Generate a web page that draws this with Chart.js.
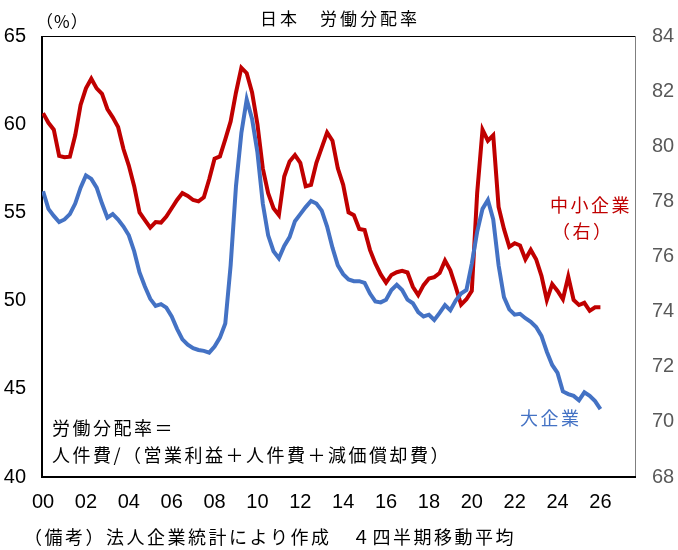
<!DOCTYPE html>
<html>
<head>
<meta charset="utf-8">
<script src="https://cdn.jsdelivr.net/npm/chart.js@4.4.1/dist/chart.umd.min.js"></script>
<style>
  html, body { margin: 0; padding: 0; background: #fff; }
  #wrap { width: 678px; height: 550px; }
</style>
</head>
<body>
<div id="wrap"><canvas id="laborChart" width="678" height="550"></canvas></div>
<script>
// 四半期データ (2000Q1 から), 4四半期移動平均
const largeFirms = [
  56.2, 55.2, 54.8, 54.45, 54.6, 54.9, 55.5, 56.4, 57.1, 56.9,
  56.4, 55.5, 54.7, 54.9, 54.6, 54.2, 53.7, 52.8, 51.6, 50.8,
  50.1, 49.7, 49.8, 49.6, 49.1, 48.4, 47.8, 47.5, 47.3, 47.2,
  47.15, 47.05, 47.4, 47.9, 48.7, 52.0, 56.5, 59.5, 61.4, 60.3,
  58.4, 55.5, 53.7, 52.8, 52.4, 53.1, 53.6, 54.5, 54.9, 55.3,
  55.65, 55.5, 55.1, 54.2, 53.0, 52.0, 51.5, 51.2, 51.1, 51.1,
  51.0, 50.4, 49.95, 49.9, 50.05, 50.6, 50.9, 50.6, 50.05, 49.85,
  49.35, 49.1, 49.2, 48.9, 49.3, 49.75, 49.45, 50.0, 50.4, 50.6,
  52.1, 53.9, 55.2, 55.7, 54.6, 52.0, 50.2, 49.5, 49.2, 49.25,
  49.0, 48.8, 48.5, 48.0, 47.1, 46.35, 45.9, 44.85, 44.7, 44.6,
  44.35, 44.8, 44.6, 44.3, 43.85
];
const smallFirms = [
  81.2, 80.85, 80.6, 79.65, 79.6, 79.62, 80.4, 81.5, 82.1, 82.45,
  82.1, 81.9, 81.35, 81.05, 80.7, 79.9, 79.3, 78.55, 77.6, 77.32,
  77.05, 77.25, 77.23, 77.45, 77.75, 78.05, 78.3, 78.2, 78.05, 78.0,
  78.15, 78.8, 79.55, 79.63, 80.25, 80.9, 81.95, 82.85, 82.65, 81.95,
  80.8, 79.2, 78.3, 77.75, 77.5, 78.9, 79.45, 79.68, 79.4, 78.55,
  78.6, 79.4, 79.95, 80.5, 80.2, 79.2, 78.6, 77.6, 77.5, 77.0,
  76.96, 76.24, 75.75, 75.35, 75.05, 75.33, 75.43, 75.48, 75.42, 74.9,
  74.6, 74.96, 75.2, 75.25, 75.4, 75.85, 75.5, 74.9, 74.25, 74.45,
  74.75, 78.3, 80.6, 80.2, 80.4, 77.8, 77.0, 76.35, 76.48, 76.4,
  75.9, 76.24, 75.9, 75.3, 74.42, 75.0, 74.75, 74.45, 75.27, 74.42,
  74.24, 74.32, 74.03, 74.16, 74.16
];
const xTickValues = [0, 2, 4, 6, 8, 10, 12, 14, 16, 18, 20, 22, 24, 26];
const xTickLabels = ['00', '02', '04', '06', '08', '10', '12', '14', '16', '18', '20', '22', '24', '26'];

const toPoints = arr => arr.map((v, i) => ({ x: i / 4, y: v }));

const cjk = '"Noto Sans CJK JP", "Noto Sans", sans-serif';
const numFont = { family: '"Liberation Sans", Arial, sans-serif', size: 20 };

// 枠線と注記
const decor = {
  id: 'decor',
  beforeDatasetsDraw(chart) {
    const { ctx, chartArea: a } = chart;
    ctx.save();
    ctx.strokeStyle = '#000';
    ctx.lineWidth = 1;
    ctx.beginPath(); ctx.moveTo(a.left, a.top + 0.5); ctx.lineTo(a.right, a.top + 0.5); ctx.stroke();
    ctx.strokeStyle = '#7f7f7f';
    ctx.beginPath(); ctx.moveTo(a.right - 0.5, a.top); ctx.lineTo(a.right - 0.5, a.bottom); ctx.stroke();
    ctx.strokeStyle = '#000';
    ctx.lineWidth = 2;
    ctx.beginPath(); ctx.moveTo(a.left, a.top); ctx.lineTo(a.left, a.bottom); ctx.lineTo(a.right, a.bottom); ctx.stroke();
    ctx.restore();
  },
  afterDraw(chart) {
    const ctx = chart.ctx;
    ctx.save();
    ctx.textBaseline = 'middle';
    ctx.textAlign = 'left';
    const put = (txt, x, y, size, color, sp) => {
      ctx.font = size + 'px ' + cjk;
      ctx.fillStyle = color;
      ctx.letterSpacing = sp + 'px';
      ctx.fillText(txt, x, y);
    };
    put('日本　労働分配率', 260, 19, 17, '#000', 3);
    put('（%）', 36, 22, 17, '#000', 1);
    put('労働分配率＝', 52, 428, 18, '#000', 2.5);
    put('人件費/（営業利益＋人件費＋減価償却費）', 52, 455, 18, '#000', 2.5);
    put('中小企業', 550, 205, 18, '#c00000', 2.5);
    put('（右）', 552, 231, 18, '#c00000', 2.5);
    put('大企業', 520, 418, 18, '#4472c4', 2.5);
    put('（備考）法人企業統計により作成　４四半期移動平均', 24, 537, 18, '#000', 2.5);
    ctx.restore();
  }
};

new Chart(document.getElementById('laborChart'), {
  type: 'line',
  data: {
    datasets: [
      {
        label: '大企業',
        data: toPoints(largeFirms),
        yAxisID: 'y',
        borderColor: '#4472c4',
        borderWidth: 4,
        pointRadius: 0,
        tension: 0
      },
      {
        label: '中小企業（右）',
        data: toPoints(smallFirms),
        yAxisID: 'y2',
        borderColor: '#c00000',
        borderWidth: 4,
        pointRadius: 0,
        tension: 0
      }
    ]
  },
  options: {
    responsive: false,
    animation: false,
    layout: { padding: { top: 36, left: 0, right: 0, bottom: 0 } },
    plugins: {
      legend: { display: false },
      tooltip: { enabled: false }
    },
    scales: {
      x: {
        type: 'linear',
        min: -0.05,
        max: 27.66,
        afterBuildTicks: s => { s.ticks = xTickValues.map(v => ({ value: v })); },
        afterFit: s => { s.height = 73; },
        grid: { display: false, drawTicks: false },
        border: { display: false },
        ticks: {
          autoSkip: false,
          maxRotation: 0,
          padding: 13,
          color: '#000',
          font: numFont,
          callback: (v, i) => xTickLabels[i]
        }
      },
      y: {
        position: 'left',
        min: 40,
        max: 65,
        afterFit: s => { s.width = 42; },
        grid: { display: false, drawTicks: false },
        border: { display: false },
        ticks: { stepSize: 5, padding: 16, color: '#000', font: numFont }
      },
      y2: {
        position: 'right',
        min: 68,
        max: 84,
        afterFit: s => { s.width = 42; },
        grid: { display: false, drawTicks: false },
        border: { display: false },
        ticks: { stepSize: 2, padding: 16, color: '#595959', font: numFont }
      }
    }
  },
  plugins: [decor]
});
</script>
</body>
</html>
